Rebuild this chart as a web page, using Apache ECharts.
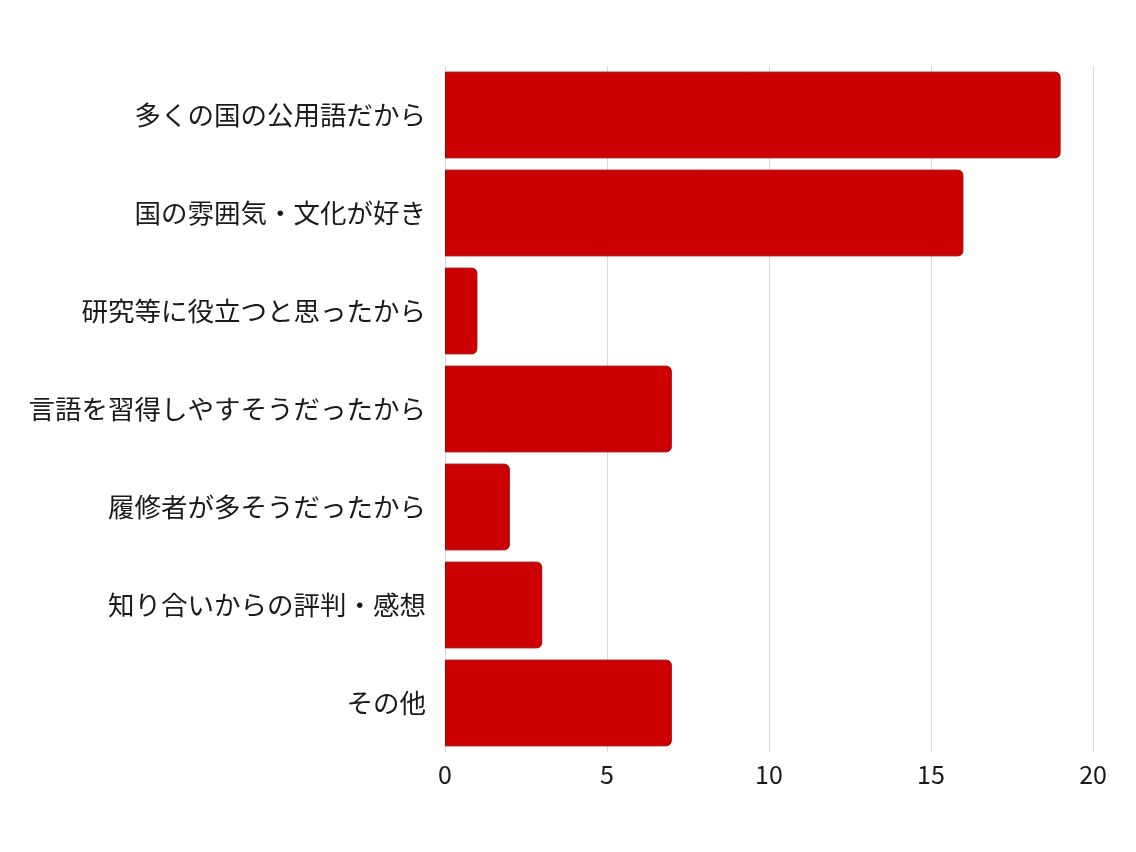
<!DOCTYPE html>
<html><head><meta charset="utf-8">
<script src="https://cdn.jsdelivr.net/npm/echarts@6/dist/echarts.min.js"></script>
<style>html,body{margin:0;padding:0;background:#fff}#c{width:1136px;height:852px}</style>
</head><body><div id="c"></div>
<script>
const categories = ["多くの国の公用語だから","国の雰囲気・文化が好き","研究等に役立つと思ったから","言語を習得しやすそうだったから","履修者が多そうだったから","知り合いからの評判・感想","その他"];
const values = [19,16,1,7,2,3,7];
const xTicks = [0,5,10,15,20];
const chart = echarts.init(document.getElementById('c'));
chart.setOption({
  animation:false,
  textStyle:{fontFamily:'"Noto Sans CJK JP","Noto Sans",sans-serif'},
  grid:{left:445,right:43,top:66,bottom:100},
  xAxis:{type:'value',min:xTicks[0],max:xTicks[xTicks.length-1],interval:5,
    axisLine:{show:false},axisTick:{show:false},
    axisLabel:{fontSize:25,color:'#1a1a1a',margin:10},
    splitLine:{lineStyle:{color:'#d9d9d9',width:1}}},
  yAxis:{type:'category',data:categories,inverse:true,
    axisLine:{show:false},axisTick:{show:false},
    axisLabel:{fontSize:26.5,color:'#1a1a1a',margin:19,padding:[0,0,4,0]}},
  series:[{type:'bar',data:values,barCategoryGap:'11.5%',
    itemStyle:{color:'#cc0000',borderColor:'#a80000',borderWidth:1,borderRadius:[0,5,5,0]}}]
});
</script></body></html>
